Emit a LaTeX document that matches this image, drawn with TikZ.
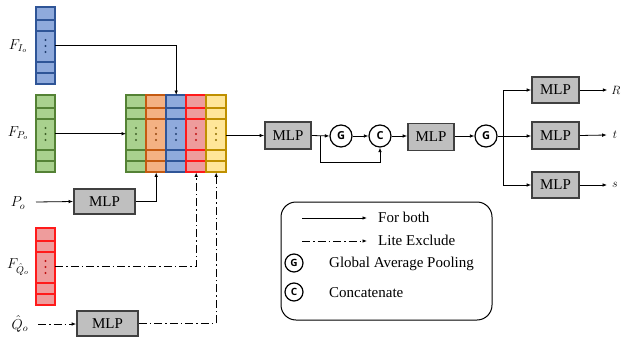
\documentclass[tikz,border=0pt]{standalone}
\usepackage{fontspec}
\setmainfont{Liberation Serif}
\newfontfamily\circfont{Open Sans}
\usetikzlibrary{arrows.meta,calc}

\definecolor{gfill}{HTML}{A9D18E}\definecolor{gedge}{HTML}{548235}
\definecolor{ofill}{HTML}{F4B183}\definecolor{oedge}{HTML}{C55A11}
\definecolor{bfill}{HTML}{8FAADC}\definecolor{bedge}{HTML}{2F5597}
\definecolor{rfill}{HTML}{EE9C9C}\definecolor{redge}{HTML}{FF1A1A}
\definecolor{yfill}{HTML}{FFE699}\definecolor{yedge}{HTML}{BF9000}
\definecolor{mlpfill}{HTML}{BFBFBF}\definecolor{mlpedge}{HTML}{404040}

\tikzset{
  arr/.style={-{Latex[length=4.5pt,width=3.6pt]}, line width=0.8pt},
  plain/.style={line width=0.8pt},
  dd/.style={dash pattern=on 8pt off 3pt on 1.5pt off 3pt},
  mlp/.style={draw=mlpedge, fill=mlpfill, line width=1.8pt, inner sep=0,
    minimum width=46pt, minimum height=26pt, font=\fontsize{15}{17}\selectfont},
  op/.style={circle, draw, line width=1.2pt, minimum size=22pt, inner sep=0,
    font=\circfont\bfseries\fontsize{11}{12}\selectfont},
  lbl/.style={inner sep=0, font=\fontsize{14}{16}\selectfont},
  outlbl/.style={inner sep=0, font=\fontsize{13}{15}\selectfont},
  legtxt/.style={inner sep=0, anchor=west, font=\fontsize{15}{17}\selectfont},
}

% feature vector: name, left x, top y, width, fill, edge colour
\newcommand{\featbar}[6]{%
  \foreach \a/\b in {0/13,13/24,24/55,55/66,66/77}
    \draw[draw=#6, fill=#5, line width=1.1pt] (#2,#3+\a) rectangle (#2+#4,#3+\b);
  \foreach \d in {33,39,45}
    \fill[#6!75!black] (#2+#4/2,#3+\d) circle (1.2pt);
  \node[inner sep=0, minimum width=#4pt, minimum height=77pt, anchor=north west] (#1) at (#2,#3) {};
}

\begin{document}
\begin{tikzpicture}[x=1pt,y=-1pt]
\useasboundingbox (0,0) rectangle (621,337);

% input feature vectors
\featbar{FIo}{36}{7}{19}{bfill}{bedge}
\featbar{FPo}{36}{95}{19}{gfill}{gedge}
\featbar{FQo}{36}{228}{19}{rfill}{redge}

% concatenated features
\featbar{cG}{126}{95}{20}{gfill}{gedge}
\featbar{cO}{146}{95}{20}{ofill}{oedge}
\featbar{cB}{166}{95}{20}{bfill}{bedge}
\featbar{cR}{186}{95}{20}{rfill}{redge}
\featbar{cY}{206}{95}{20}{yfill}{yedge}

% input labels
\node[lbl] (lIo) at (18,46) {$F_{I_o}$};
\node[lbl] (lPo) at (18,133) {$F_{P_o}$};
\node[lbl] (lQo) at (18,267) {$F_{\hat{Q}_o}$};
\node[lbl] (Po) at (18,203) {$P_o$};
\node[lbl] (Qh) at (20,324) {$\hat{Q}_o$};
\coordinate (PoS) at (36,202);
\coordinate (QhS) at (38,324);

% MLPs
\node[mlp, minimum width=61pt, minimum height=25pt] (mlp1) at (104.5,201.5) {MLP};
\node[mlp, minimum width=61pt, minimum height=25pt] (mlp4) at (107.5,323.5) {MLP};
\node[mlp, minimum height=27pt] (mlp2) at (288,135.5) {MLP};
\node[mlp, minimum height=27pt] (mlp3) at (431,137) {MLP};
\node[mlp, minimum width=47pt] (mlpR) at (555.5,90) {MLP};
\node[mlp, minimum width=47pt, minimum height=27pt] (mlpT) at (555.5,135.5) {MLP};
\node[mlp, minimum width=47pt] (mlpS) at (555.5,185) {MLP};

% pooling / concatenation
\node[op] (G1) at (341,136) {G};
\node[op] (C1) at (380,136) {C};
\node[op] (G2) at (486,136) {G};
\coordinate (split) at (503,136);

% outputs
\node[outlbl] (R) at (616,90) {$R$};
\node[outlbl] (t) at (615,135) {$t$};
\node[outlbl] (s) at (615,185) {$s$};

% connectors into the concatenation
\draw[arr] (FIo.east) -| (cB.north);
\draw[arr] (FPo.east) -- (cG.west);
\draw[arr] (PoS) -- (mlp1.west);
\draw[arr] (mlp1.east) -| (cO.south);
\draw[arr, dd] (FQo.east) -| (cR.south);
\draw[arr, dd] (QhS) -- (QhS -| mlp4.west);
\draw[arr, dd] (mlp4.east) -| (cY.south);

% head
\draw[arr] (cY.east |- mlp2.west) -- (mlp2.west);
\draw[arr] (mlp2.east) -- (G1.west);
\draw[arr] ($(mlp2.east)+(8,0)$) -- ++(0,27) -| (C1.south);
\draw[arr] (G1.east) -- (C1.west);
\draw[arr] (C1.east) -- (C1.east -| mlp3.west);
\draw[arr] (mlp3.east |- G2.west) -- (G2.west);
\draw[plain] (G2.east) -- (split);
\draw[arr] (split) |- (mlpR.west);
\draw[arr] (split) -- (mlpT.west |- split);
\draw[arr] (split) |- (mlpS.west);
\draw[arr] (mlpR.east) -- ($(R.west)+(-4,0)$);
\draw[arr] (mlpT.east) -- ($(t.west)+(-6,0)$);
\draw[arr] (mlpS.east) -- ($(s.west)+(-5,0)$);

% legend
\node[draw, rounded corners=15pt, line width=1pt, minimum width=211pt, minimum height=118pt, inner sep=0] (legend) at (386.5,261) {};
\coordinate (la1) at (302,218); \coordinate (la2) at (367,218);
\coordinate (lb1) at (302,241); \coordinate (lb2) at (367,241);
\draw[arr] (la1) -- (la2);
\draw[arr, dd] (lb1) -- (lb2);
\node[legtxt] (tboth) at (378,217) {For both};
\node[legtxt] (tlite) at (378,240) {Lite Exclude};
\node[op, minimum size=18pt, font=\circfont\bfseries\fontsize{10}{12}\selectfont] (lG) at (294,263) {G};
\node[op, minimum size=18pt, font=\circfont\bfseries\fontsize{10}{12}\selectfont] (lC) at (294,292) {C};
\node[legtxt] (tgap) at (329,264) {Global Average Pooling};
\node[legtxt] (tcat) at (329,293) {Concatenate};
\end{tikzpicture}
\end{document}
